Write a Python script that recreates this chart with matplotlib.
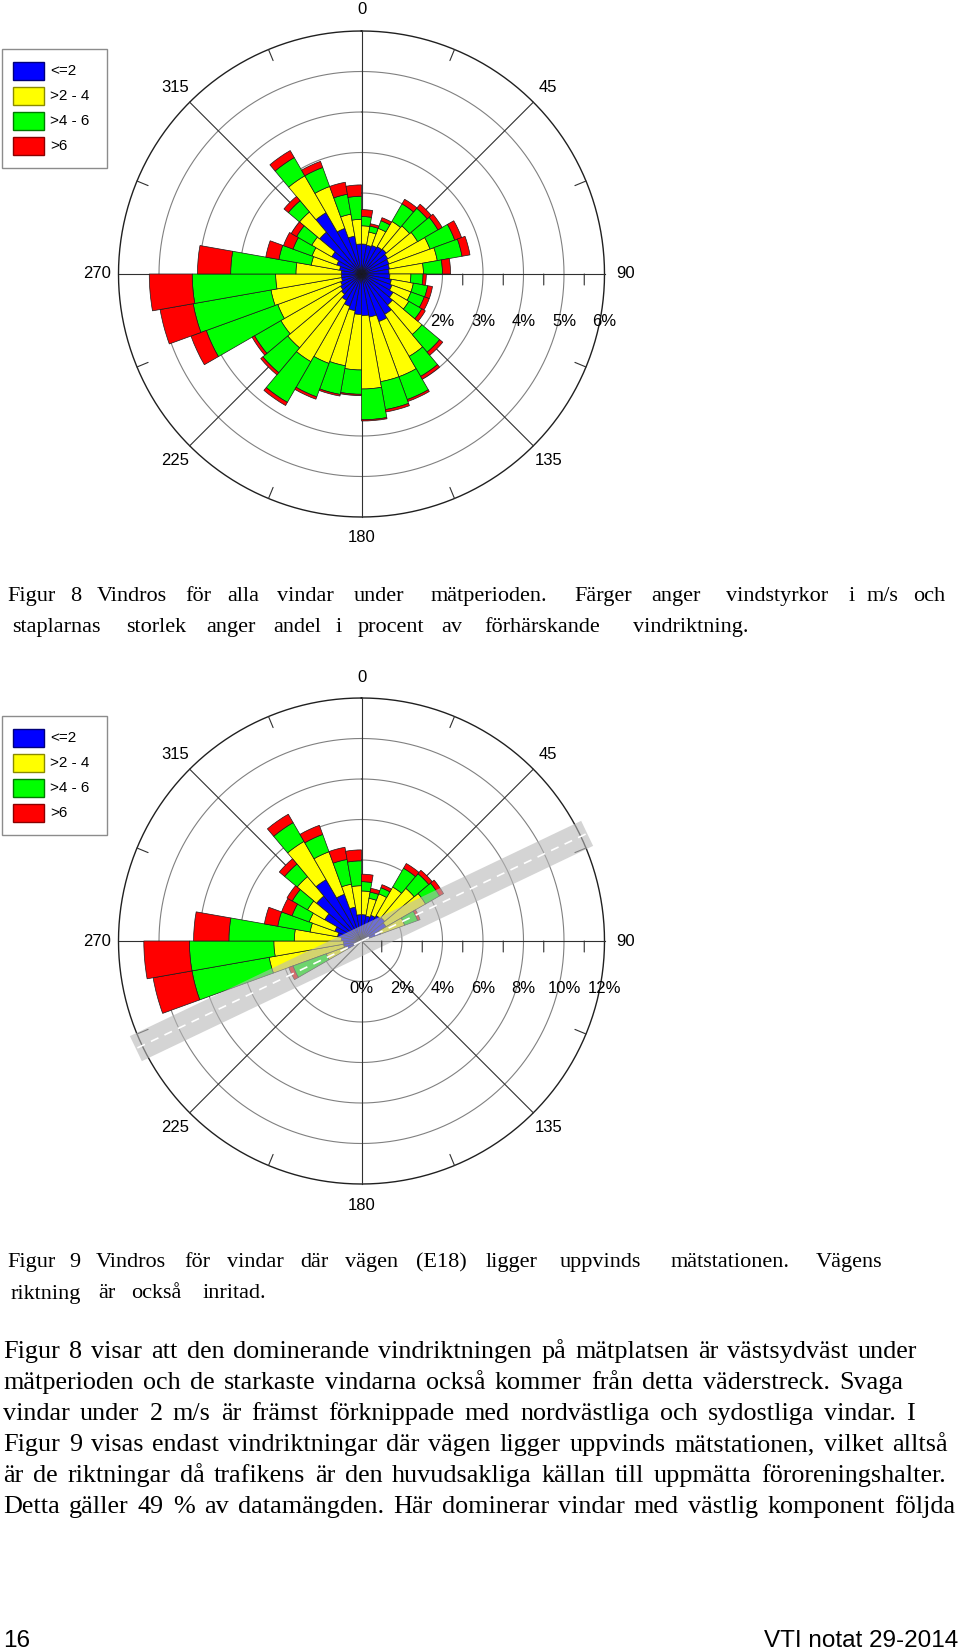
import numpy as np
import matplotlib
matplotlib.use("Agg")
import matplotlib.pyplot as plt
from matplotlib.patches import Rectangle

# ── Wind direction bins (compass degrees, bin centres) ──
directions = [5, 15, 25, 35, 45, 55, 65, 75, 85, 95, 105, 115, 125, 135, 145, 155, 165, 175,
              185, 195, 205, 215, 225, 235, 245, 255, 265, 275, 285, 295, 305, 315, 325, 335, 345, 355]
speed_classes = ["<=2", ">2 - 4", ">4 - 6", ">6"]

# Figur 8: all winds, % per speed class
all_le2 = [.74, .72, .75, .78, .80, .75, .72, .70, .68, .70, .75, .80, .90, 1.00, 1.15, 1.25, 1.08, 1.03,
           1.00, .92, .85, .75, .65, .60, .55, .50, .50, .50, .55, .65, .85, 1.35, 1.75, 1.20, .95, .74]
all_2_4 = [.45, .33, .45, .72, .75, .85, 1.08, 1.20, .85, .52, .55, .50, .45, .95, 1.20, 1.45, 1.62, 1.81,
           1.37, 1.38, 1.50, 1.75, 1.73, 1.70, 1.65, 1.77, 1.62, 1.12, .71, .65, .57, .65, 1.05, 1.10, .55, .61]
all_4_6 = [.23, .15, .20, .50, .57, .58, .65, .62, .47, .30, .36, .35, .37, .57, .57, .60, .70, .76,
           .60, .72, .88, 1.16, .80, .75, 1.88, 1.95, 2.06, 1.61, .81, .50, .43, .36, .52, .50, .50, .57]
all_gt6 = [.17, .06, .08, .13, .13, .12, .18, .20, .20, .08, .12, .13, .10, .10, .08, .05, .06, .03,
           .03, .04, .06, .09, .07, .07, .40, .83, 1.06, .82, .33, .25, .15, .14, .20, .16, .30, .28]

# Figur 9: winds with the road (E18) upwind of the station
up_le2 = [1.30, 1.25, 1.35, 1.45, 1.50, 1.40, 1.00, 0, 0, 0, 0, 0, 0, 0, 0, 0, 0, 0,
          0, 0, 0, 0, 0, 0, .80, .90, .90, 1.00, 1.20, 1.40, 2.10, 2.90, 3.50, 2.46, 1.70, 1.30]
up_2_4 = [1.17, .89, 1.13, 1.63, 1.90, 2.25, 1.27, 0, 0, 0, 0, 0, 0, 0, 0, 0, 0, 0,
          0, 0, 0, 0, 0, 0, 1.05, 3.73, 3.43, 2.32, 1.38, 1.35, .98, 1.25, 2.18, 2.23, 1.15, 1.43]
up_4_6 = [.46, .31, .32, 1.07, .94, .80, .68, 0, 0, 0, 0, 0, 0, 0, 0, 0, 0, 0,
          0, 0, 0, 0, 0, 0, 1.75, 3.87, 4.17, 3.23, 1.62, .90, .87, .81, 1.07, .91, 1.24, 1.23]
up_gt6 = [.37, .19, .16, .27, .22, .23, .13, 0, 0, 0, 0, 0, 0, 0, 0, 0, 0, 0,
          0, 0, 0, 0, 0, 0, .22, 1.95, 2.25, 1.74, .67, .55, .30, .34, .48, .48, .61, .54]

road_direction = 64.5  # degrees, E18 drawn through the station

COLORS = ["#0000ff", "#ffff00", "#00ff00", "#ff0000"]
EDGES = ["#00007a", "#8a8a00", "#007a00", "#8a0000"]
RING = "#808080"
SANS = "Liberation Sans"
SERIF = "Liberation Serif"

W, H = 960, 1652
CX, R = 361.5, 243.0

fig = plt.figure(figsize=(W / 100, H / 100), dpi=100, facecolor="white")


def fx(x):
    return x / W


def fy(y):
    return 1 - y / H


def draw_rose(cy, classes, rmax, rings, label_vals, axis_ticks, road=None):
    ax = fig.add_axes([fx(CX - R), fy(cy + R), 2 * R / W, 2 * R / H], projection="polar")
    ax.set_theta_zero_location("N")
    ax.set_theta_direction(-1)
    ax.set_ylim(0, rmax)
    ax.set_axis_off()
    ppu = R / rmax

    circ = np.linspace(0, 2 * np.pi, 721)
    for r in rings:
        ax.plot(circ, np.full_like(circ, r), color=RING, lw=0.8, zorder=0.5, clip_on=False)
    ax.plot(circ, np.full_like(circ, rmax), color="#202020", lw=1.0, zorder=0.5, clip_on=False)

    for a in range(0, 360, 45):
        ax.plot([np.radians(a)] * 2, [0, rmax], color="#303030", lw=0.8, zorder=0.6, clip_on=False)
        s, c = np.sin(np.radians(a)), np.cos(np.radians(a))
        ax.annotate(str(a), xy=(np.radians(a), rmax), xytext=(21 * s, 21 * c),
                    textcoords="offset pixels", ha="center", va="center",
                    fontsize=12, family=SANS)
        b = np.radians(a + 22.5)
        ax.annotate("", xy=(b, rmax), xytext=(-12 * np.sin(b), -12 * np.cos(b)),
                    textcoords="offset pixels",
                    arrowprops=dict(arrowstyle="-", color="#303030", lw=0.8,
                                    shrinkA=0, shrinkB=0))

    for v in axis_ticks:
        ax.annotate("", xy=(np.pi / 2, v), xytext=(0, -11), textcoords="offset pixels",
                    arrowprops=dict(arrowstyle="-", color="#303030", lw=0.8,
                                    shrinkA=0, shrinkB=0), zorder=4)
    for v in label_vals:
        ax.annotate(f"{v}%", xy=(np.pi / 2, v), xytext=(0, -47), textcoords="offset pixels",
                    ha="center", va="center", fontsize=12, family=SANS)

    theta = np.radians(directions)
    vals = [np.asarray(c, dtype=float) for c in classes]
    total = np.sum(vals, axis=0)
    m = total > 0
    base = np.zeros(len(directions))
    for v, col in zip(vals, COLORS):
        ax.bar(theta[m], v[m], width=np.radians(10), bottom=base[m], color=col,
               edgecolor="#1a1a1a", linewidth=0.5, zorder=2)
        base += v

    if road is not None:
        L = 250 / ppu
        for a in (road, road + 180):
            ax.plot([np.radians(a)] * 2, [0, L], color="#b8b8b8", lw=20, alpha=0.6,
                    solid_capstyle="butt", zorder=3, clip_on=False)
            ax.plot([np.radians(a)] * 2, [0, L], color="white", lw=1.2, dashes=(5, 4),
                    zorder=3.5, clip_on=False)
    return ax


def draw_legend(top):
    fig.add_artist(Rectangle((fx(2), fy(top + 119)), 105 / W, 119 / H, transform=fig.transFigure,
                             fill=False, edgecolor="#8c8c8c", lw=1))
    for i, (lab, col, edge) in enumerate(zip(speed_classes, COLORS, EDGES)):
        y0 = top + 12.7 + 25 * i
        fig.add_artist(Rectangle((fx(13), fy(y0 + 18)), 31 / W, 18 / H, transform=fig.transFigure,
                                 facecolor=col, edgecolor=edge, lw=1))
        fig.text(fx(50), fy(y0 + 9), lab, va="center", ha="left", fontsize=11, family=SANS)


draw_rose(274, [all_le2, all_2_4, all_4_6, all_gt6], 6, [2, 3, 4, 5],
          [2, 3, 4, 5, 6], [2.5, 3.5, 4.5, 5.5])
draw_legend(49)

draw_rose(941, [up_le2, up_2_4, up_4_6, up_gt6], 12, [2, 4, 6, 8, 10],
          [0, 2, 4, 6, 8, 10, 12], [1, 3, 5, 7, 9, 11], road=road_direction)
draw_legend(49 + 667)

# ── Text ──
renderer = fig.canvas.get_renderer()


def text_width(s, size):
    t = fig.text(0, 0, s, fontsize=size, family=SERIF)
    w = t.get_window_extent(renderer).width
    t.remove()
    return w


def tracked(line, x0, x1, base, size):
    # caption lines are letter-spaced in the source: constant extra space per
    # character, each word centred where its letters would fall
    words = line.split(" ")
    total = text_width(line, size)
    track = (x1 - x0 - total) / max(len(line) - 1, 1)
    for i, w in enumerate(words):
        prefix = " ".join(words[:i]) + " " if i else ""
        ww = text_width(w, size)
        start = text_width(prefix + w, size) - ww if i else 0.0
        mid_char = len(prefix) + (len(w) - 1) / 2
        fig.text(fx(x0 + start + ww / 2 + track * mid_char), fy(base), w, fontsize=size,
                 family=SERIF, va="baseline", ha="center")


def justified(line, x0, x1, base, size):
    words = line.split(" ")
    texts = [fig.text(0, fy(base), w, fontsize=size, family=SERIF, va="baseline", ha="left")
             for w in words]
    widths = [t.get_window_extent(renderer).width for t in texts]
    gap = (x1 - x0 - sum(widths)) / max(len(words) - 1, 1)
    x = x0
    for t, w in zip(texts, widths):
        t.set_x(fx(x))
        x += w + gap


captions = [
    ("Figur 8 Vindros för alla vindar under mätperioden. Färger anger vindstyrkor i m/s och", 947, 601),
    ("staplarnas storlek anger andel i procent av förhärskande vindriktning.", 761, 632),
    ("Figur 9 Vindros för vindar där vägen (E18) ligger uppvinds mätstationen. Vägens", 888, 1267),
    ("riktning är också inritad.", 273, 1298.5),
]
for line, x1, base in captions:
    tracked(line, 3, x1, base, 16)

body = [
    ("Figur 8 visar att den dominerande vindriktningen på mätplatsen är västsydväst under", 917),
    ("mätperioden och de starkaste vindarna också kommer från detta väderstreck. Svaga", 903),
    ("vindar under 2 m/s är främst förknippade med nordvästliga och sydostliga vindar. I", 915),
    ("Figur 9 visas endast vindriktningar där vägen ligger uppvinds mätstationen, vilket alltså", 948),
    ("är de riktningar då trafikens är den huvudsakliga källan till uppmätta föroreningshalter.", 946),
    ("Detta gäller 49 % av datamängden. Här dominerar vindar med västlig komponent följda", 955),
]
for i, (line, x1) in enumerate(body):
    justified(line, 3, x1, 1358 + 31 * i, 18.8)

fig.text(fx(3), fy(1647), "16", fontsize=17.5, family=SANS, va="baseline", ha="left")
fig.text(fx(958), fy(1647), "VTI notat 29-2014", fontsize=17.5, family=SANS, va="baseline", ha="right")

fig.savefig("out.png", dpi=100, facecolor="white")
